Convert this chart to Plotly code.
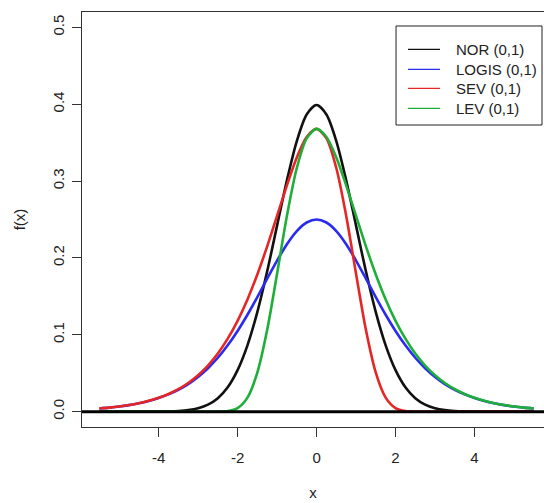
import plotly.graph_objects as go

# ---- data ----
x_vals = [-5.5, -5.25, -5.0, -4.75, -4.5, -4.25, -4.0, -3.75, -3.5, -3.25, -3.0, -2.75,
          -2.5, -2.25, -2.0, -1.75, -1.5, -1.25, -1.0, -0.75, -0.5, -0.25, 0.0,
          0.25, 0.5, 0.75, 1.0, 1.25, 1.5, 1.75, 2.0, 2.25, 2.5, 2.75, 3.0,
          3.25, 3.5, 3.75, 4.0, 4.25, 4.5, 4.75, 5.0, 5.25, 5.5]

nor_vals = [0.0, 0.0, 0.0, 0.00001, 0.00002, 0.00005, 0.00013, 0.00035, 0.00087, 0.0020,
            0.0044, 0.0091, 0.0175, 0.0317, 0.0540, 0.0863, 0.1295, 0.1826, 0.2420,
            0.3011, 0.3521, 0.3867, 0.3989,
            0.3867, 0.3521, 0.3011, 0.2420, 0.1826, 0.1295, 0.0863, 0.0540, 0.0317,
            0.0175, 0.0091, 0.0044, 0.0020, 0.00087, 0.00035, 0.00013, 0.00005,
            0.00002, 0.00001, 0.0, 0.0, 0.0]

logis_vals = [0.0041, 0.0052, 0.0066, 0.0085, 0.0109, 0.0139, 0.0177, 0.0225, 0.0285,
              0.0359, 0.0452, 0.0565, 0.0701, 0.0863, 0.1050, 0.1261, 0.1491, 0.1731,
              0.1966, 0.2179, 0.2350, 0.2461, 0.2500,
              0.2461, 0.2350, 0.2179, 0.1966, 0.1731, 0.1491, 0.1261, 0.1050, 0.0863,
              0.0701, 0.0565, 0.0452, 0.0359, 0.0285, 0.0225, 0.0177, 0.0139, 0.0109,
              0.0085, 0.0066, 0.0052, 0.0041]

sev_vals = [0.0041, 0.0052, 0.0067, 0.0086, 0.0110, 0.0141, 0.0180, 0.0230, 0.0293,
            0.0373, 0.0474, 0.0600, 0.0756, 0.0949, 0.1182, 0.1460, 0.1785, 0.2151,
            0.2546, 0.2945, 0.3307, 0.3574, 0.3679,
            0.3556, 0.3170, 0.2549, 0.1794, 0.1064, 0.0507, 0.0182, 0.0046, 0.0007,
            0.0001, 0.0, 0.0, 0.0, 0.0, 0.0, 0.0, 0.0, 0.0, 0.0, 0.0, 0.0, 0.0]

lev_vals = [0.0, 0.0, 0.0, 0.0, 0.0, 0.0, 0.0, 0.0, 0.0, 0.0, 0.0, 0.0,
            0.0001, 0.0007, 0.0046, 0.0182, 0.0507, 0.1064, 0.1794, 0.2549, 0.3170,
            0.3556, 0.3679,
            0.3574, 0.3307, 0.2945, 0.2546, 0.2151, 0.1785, 0.1460, 0.1182, 0.0949,
            0.0756, 0.0600, 0.0474, 0.0373, 0.0293, 0.0230, 0.0180, 0.0141, 0.0110,
            0.0086, 0.0067, 0.0052, 0.0041]

series_names = ["NOR (0,1)", "LOGIS (0,1)", "SEV (0,1)", "LEV (0,1)"]
series_values = [nor_vals, logis_vals, sev_vals, lev_vals]
series_colors = ["#111111", "#2b2bef", "#e52626", "#1fae3a"]

x_ticks = [-4, -2, 0, 2, 4]
y_ticks = [0.0, 0.1, 0.2, 0.3, 0.4, 0.5]

FONT = "Liberation Sans, Arial, sans-serif"
TXT = "#222222"

fig = go.Figure()
for name, vals, col in zip(series_names, series_values, series_colors):
    fig.add_trace(go.Scatter(
        x=x_vals, y=vals, mode="lines", name=name,
        line=dict(color=col, width=2.6, shape="spline", smoothing=0.8),
        showlegend=False, hoverinfo="skip"))

# horizontal reference line at 0
fig.add_shape(type="line", xref="paper", yref="y", x0=0, x1=1, y0=0, y1=0,
              line=dict(color="black", width=3), layer="above")

# manual legend (R style)
leg_x0, leg_x1 = 0.6797, 0.9957
leg_y0, leg_y1 = 0.7277, 0.9663
fig.add_shape(type="rect", xref="paper", yref="paper", x0=leg_x0, x1=leg_x1,
              y0=leg_y0, y1=leg_y1, line=dict(color="#222222", width=1),
              fillcolor="white", layer="above")
row_y = [0.9101, 0.8619, 0.8161, 0.7680]
for name, col, ry in zip(series_names, series_colors, row_y):
    fig.add_shape(type="line", xref="paper", yref="paper", x0=0.7056, x1=0.7749,
                  y0=ry, y1=ry, line=dict(color=col, width=1.3), layer="above")
    fig.add_annotation(xref="paper", yref="paper", x=0.8060, y=ry, text=name,
                       showarrow=False, xanchor="left", yanchor="middle",
                       font=dict(family=FONT, size=15, color=TXT))

fig.update_layout(
    width=544, height=503,
    margin=dict(l=82, r=0, t=12, b=76),
    paper_bgcolor="white", plot_bgcolor="white",
    font=dict(family=FONT, size=15, color=TXT),
    showlegend=False,
)
fig.update_xaxes(
    range=[-5.94, 5.76], tickvals=x_ticks, ticktext=[str(v) for v in x_ticks],
    showgrid=False, zeroline=False, showline=True, linecolor="#333333", linewidth=1,
    mirror=True, ticks="outside", ticklen=9, tickcolor="#333333",
    ticklabelstandoff=8,
    title=dict(text="x", standoff=22, font=dict(family=FONT, size=15, color=TXT)))
fig.update_yaxes(
    range=[-0.02, 0.52], tickvals=y_ticks, ticktext=[f"{v:.1f}" for v in y_ticks],
    tickangle=-90,
    showgrid=False, zeroline=False, showline=True, linecolor="#333333", linewidth=1,
    mirror=False, ticks="outside", ticklen=9, tickcolor="#333333",
    ticklabelstandoff=2,
    title=dict(text="f(x)", standoff=20, font=dict(family=FONT, size=15, color=TXT)))

fig.write_html("out.html")
